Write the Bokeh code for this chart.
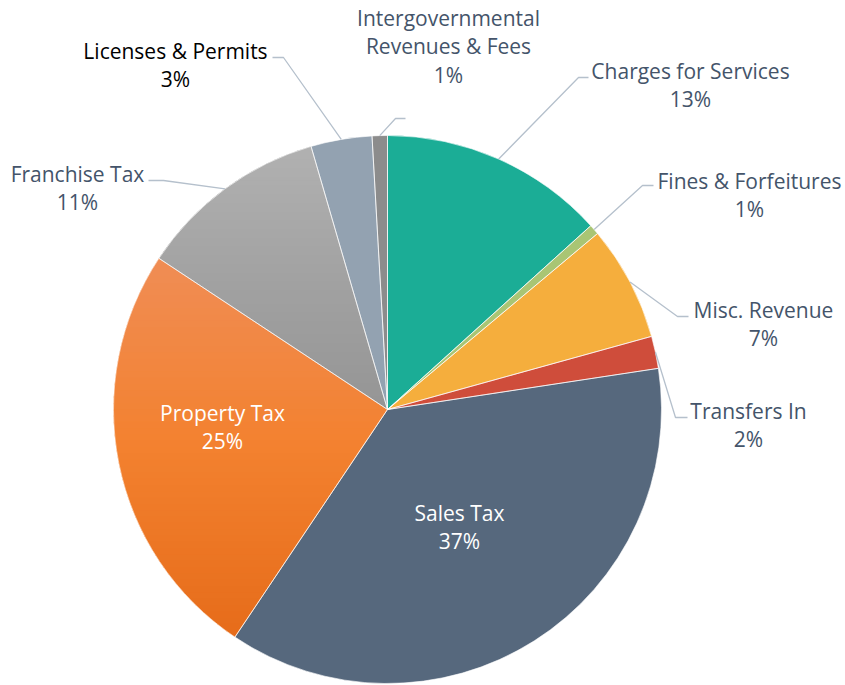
import numpy as np
from bokeh.plotting import figure
from bokeh.models import Range1d, ColumnDataSource
from bokeh.core.properties import value
from bokeh.embed import file_html
from bokeh.resources import INLINE

# ---- data ----
categories = ["Charges for Services", "Fines & Forfeitures", "Misc. Revenue", "Transfers In",
              "Sales Tax", "Property Tax", "Franchise Tax", "Licenses & Permits",
              "Intergovernmental\nRevenues & Fees"]
values = [13.3, 0.6, 6.8, 1.9, 36.8, 24.9, 11.2, 3.6, 0.9]
pct_labels = ["13%", "1%", "7%", "2%", "37%", "25%", "11%", "3%", "1%"]
colors = ["#1bad96", "#a9c574", "#f5ae3d", "#cf4d3b", "#56687d", "#f2802f", "#a3a3a3", "#93a2b1", "#8c8c8c"]
grad_top = [None, None, None, None, None, "#f08d55", "#b1b1b1", None, None]
grad_mid = [None, None, None, None, None, "#f3812f", "#a2a2a2", None, None]
grad_bottom = [None, None, None, None, None, "#e66c1a", "#959595", None, None]

# ---- layout (screen pixels) ----
W, H = 845, 685
CX, CY, R = 387, 409, 274
def fy(y):  # screen y -> data y
    return H - y

label_pos = {
    0: (690, 70), 1: (749, 180), 2: (763, 309), 3: (748, 410),
    4: (459, 512), 5: (222, 412), 6: (77, 173), 7: (175, 50), 8: (448, 17),
}
leader_elbow = {
    0: [(578, 77), (588, 77)],
    1: [(642, 185), (653, 185)],
    2: [(677, 316), (688, 316)],
    3: [(675, 417), (687, 417)],
    6: [(163, 180), (148, 180)],
    7: [(283, 57), (272, 57)],
    8: [(395, 118), (405, 118)],
}
text_colors = {4: "white", 5: "white", 7: "#000000"}

vals = np.array(values, dtype=float)
frac = vals / vals.sum()
cum_end = np.cumsum(frac)
cum_start = cum_end - frac
start_angle = np.pi / 2 - 2 * np.pi * cum_start
end_angle = np.pi / 2 - 2 * np.pi * cum_end
mid = (cum_start + cum_end) / 2 * 2 * np.pi  # clockwise from top

p = figure(width=W, height=H, output_backend="svg", toolbar_location=None,
           x_range=Range1d(0, W), y_range=Range1d(0, H),
           min_border=0, outline_line_color=None, background_fill_color="white",
           border_fill_color="white")
p.axis.visible = False
p.grid.visible = False

src = ColumnDataSource(dict(start=start_angle, end=end_angle, color=colors, cat=categories))
p.wedge(x=CX, y=fy(CY), radius=R, start_angle="start", end_angle="end", direction="clock",
        fill_color="color", line_color=None, source=src)

# vertical gradients for some slices (screen coords), as overlapping bands
def hexrgb(h):
    h = h.lstrip("#")
    return np.array([int(h[i:i + 2], 16) for i in (0, 2, 4)], dtype=float)

def clip(poly, y0, keep_above):
    out = []
    n = len(poly)
    for k in range(n):
        a, b = poly[k], poly[(k + 1) % n]
        ina = a[1] >= y0 if keep_above else a[1] <= y0
        inb = b[1] >= y0 if keep_above else b[1] <= y0
        if ina:
            out.append(a)
        if ina != inb:
            t = (y0 - a[1]) / (b[1] - a[1])
            out.append((a[0] + t * (b[0] - a[0]), y0))
    return out

for i in range(len(values)):
    if grad_top[i] is None:
        continue
    a0 = cum_start[i] * 2 * np.pi
    a1 = cum_end[i] * 2 * np.pi
    th = np.linspace(a0, a1, 120)
    poly = [(CX, CY)] + [(CX + R * np.sin(t), CY - R * np.cos(t)) for t in th]
    ys = [q[1] for q in poly]
    ymin, ymax = min(ys), max(ys)
    nb = 60
    edges = np.linspace(ymin, ymax, nb + 1)
    c0, cm, c1 = hexrgb(grad_top[i]), hexrgb(grad_mid[i]), hexrgb(grad_bottom[i])
    bx, by, bc = [], [], []
    for b in range(nb):
        pb = clip(poly, edges[b] - 0.6, True)
        pb = clip(pb, edges[b + 1] + 0.6, False) if pb else []
        if len(pb) < 3:
            continue
        f = (b + 0.5) / nb
        if f < 0.5:
            c = c0 + (cm - c0) * (f / 0.5)
        else:
            c = cm + (c1 - cm) * ((f - 0.5) / 0.5)
        bx.append([q[0] for q in pb])
        by.append([fy(q[1]) for q in pb])
        bc.append("#%02x%02x%02x" % tuple(int(round(v)) for v in c))
    p.patches(xs=bx, ys=by, fill_color=bc, line_color=None)

# white separators
p.wedge(x=CX, y=fy(CY), radius=R, start_angle="start", end_angle="end", direction="clock",
        fill_color=None, line_color="white", line_width=0.6, source=src)

# leader lines
for i, elbow in leader_elbow.items():
    sx = CX + R * np.sin(mid[i])
    sy = CY - R * np.cos(mid[i])
    xs = [sx] + [e[0] for e in elbow]
    ys = [fy(sy)] + [fy(e[1]) for e in elbow]
    p.line(xs, ys, line_color="#b5c0cc", line_width=1.3)

# labels
FONT = "Open Sans"
FS = "21px"
LH = 28.8
for i, cat in enumerate(categories):
    lx, ly = label_pos[i]
    lines = cat.split("\n") + [pct_labels[i]]
    col = text_colors.get(i, "#44546a")
    for k, t in enumerate(lines):
        p.text(x=[lx], y=[fy(ly + k * LH)], text=[t], text_align="center", text_baseline="middle",
               text_font=value(FONT), text_font_size=FS, text_color=col)

open("out.html", "w").write(file_html(p, INLINE))
